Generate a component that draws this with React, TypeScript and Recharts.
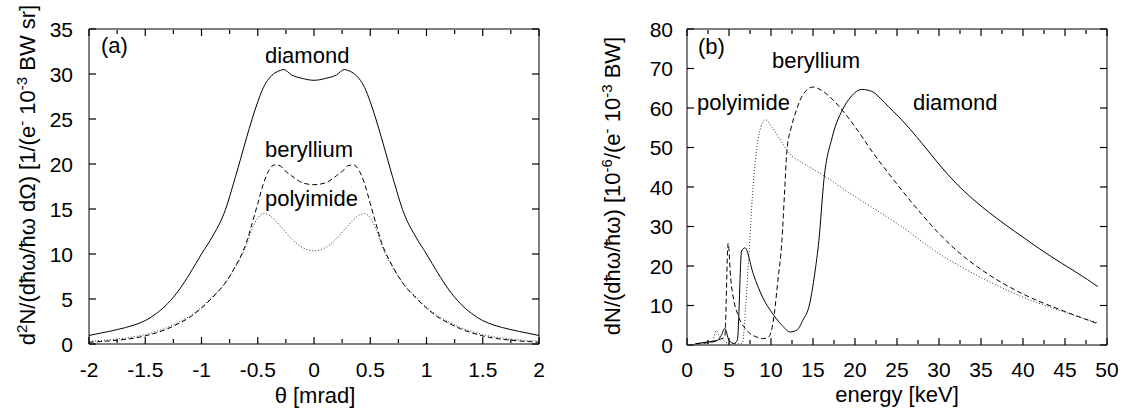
import React from 'react';
import { LineChart, Line, XAxis, YAxis } from 'recharts';

const FONT = '"Liberation Sans", Arial, Helvetica, sans-serif';

// (a) angular distribution, theta in mrad
const theta = [-2, -1.9, -1.75, -1.6, -1.5, -1.4, -1.3, -1.2, -1.1, -1, -0.9, -0.8, -0.7, -0.6, -0.55, -0.5, -0.45, -0.4, -0.35,
  -0.3, -0.27, -0.2, -0.1, 0, 0.1, 0.2, 0.27, 0.3, 0.35, 0.4, 0.45, 0.5, 0.55, 0.6, 0.7, 0.8, 0.9, 1, 1.1, 1.2, 1.3, 1.4, 1.5,
  1.6, 1.75, 1.9, 2];
const diamondA = [0.95, 1.2, 1.6, 2.1, 2.6, 3.4, 4.5, 6.0, 7.9, 10.0, 12.0, 14.5, 18.5, 22.9, 25.0, 26.9, 28.5, 29.5, 30.1,
  30.4, 30.5, 29.9, 29.5, 29.3, 29.5, 29.9, 30.5, 30.4, 30.1, 29.5, 28.5, 26.9, 25.0, 22.9, 18.5, 14.5, 12.0, 10.0, 7.9, 6.0,
  4.5, 3.4, 2.6, 2.1, 1.6, 1.2, 0.95];
const berylliumA = [0.2, 0.27, 0.42, 0.65, 0.9, 1.25, 1.7, 2.3, 3.0, 4.0, 5.2, 6.6, 8.6, 11.3, 13.4, 15.6, 17.8, 19.3, 19.9,
  19.8, 19.4, 18.7, 17.9, 17.7, 17.9, 18.7, 19.4, 19.8, 19.9, 19.3, 17.8, 15.6, 13.4, 11.3, 8.6, 6.6, 5.2, 4.0, 3.0, 2.3,
  1.7, 1.25, 0.9, 0.65, 0.42, 0.27, 0.2];
const polyimideA = [0.3, 0.38, 0.55, 0.8, 1.05, 1.4, 1.85, 2.45, 3.15, 4.1, 5.3, 6.6, 8.5, 11.0, 12.8, 14.0, 14.5, 14.3, 13.8,
  13.1, 12.7, 11.7, 10.7, 10.35, 10.7, 11.7, 12.7, 13.1, 13.8, 14.3, 14.5, 14.0, 12.8, 11.0, 8.5, 6.6, 5.3, 4.1, 3.15, 2.45,
  1.85, 1.4, 1.05, 0.8, 0.55, 0.38, 0.3];

const thetaMajor = [-2, -1.5, -1, -0.5, 0, 0.5, 1, 1.5, 2];
const thetaMinor = [-1.75, -1.25, -0.75, -0.25, 0.25, 0.75, 1.25, 1.75];
const angTicks = [0, 5, 10, 15, 20, 25, 30, 35];

// (b) spectra, energy in keV
const diamondE = [1, 2.5, 3.6, 4.1, 4.5, 5.0, 5.6, 6.0, 6.5, 6.9, 7.9, 9.0, 10.2, 11.3, 12.3, 13.1, 13.8, 14.6, 15.2, 15.7, 16.3,
  17.3, 18.5, 19.5, 20.8, 22, 23, 24, 25.2, 28, 30.1, 32, 34, 36, 38, 40, 42, 44.6, 46.5, 48.9];
const diamondB = [0.3, 0.8, 1.2, 2.5, 4.2, 1.2, 0.4, 1.3, 23.8, 24.6, 17.9, 12.1, 7.9, 5.0, 3.3, 3.8, 6.3, 10.4, 18, 26.4, 41.8,
  52.7, 59.5, 62.8, 64.7, 64.2, 62.5, 60.3, 57.8, 51.0, 45.5, 41.0, 37.0, 33.5, 30.3, 27.3, 24.3, 20.7, 18.2, 14.8];

const berylliumE = [1, 2.5, 3.5, 4.0, 4.5, 4.9, 5.2, 5.6, 6.0, 6.3, 7.0, 7.5, 8.2, 9.0, 9.6, 10.0, 10.4, 10.8, 11.3, 11.6, 11.9,
  12.4, 12.9, 13.9, 15.0, 16.0, 17.4, 19.4, 22.2, 25.2, 27.5, 30.1, 32.5, 35.1, 40, 44.6, 48.9];
const berylliumB = [0.3, 0.6, 1.0, 1.5, 2.0, 25.8, 17, 11, 8, 6.3, 4, 2.9, 2.1, 1.6, 1.8, 3.2, 8, 16, 26.4, 38, 49.3,
  55, 58.7, 63.7, 65.3, 64.5, 62, 57, 48.5, 40.2, 34.2, 28.0, 23.2, 19.0, 12.9, 8.8, 5.4];

const polyimideE = [1, 2.5, 3.0, 3.5, 3.8, 4.0, 4.4, 5.0, 6.0, 6.6, 7.0, 7.4, 7.8, 8.2, 8.6, 9.0, 9.4, 10, 11, 12.2, 14, 16.5,
  19.4, 22.5, 25.2, 30.1, 35.1, 40, 44.6, 48.9];
const polyimideB = [0.2, 0.5, 0.8, 3.7, 2.5, 2.0, 1.0, 0.5, 0.3, 0.5, 10, 24, 38, 48, 53.6, 56.3, 57, 55.5, 52.3, 48.5, 45.8, 42.6,
  38.4, 34.2, 30.5, 23.0, 17.0, 12.1, 8.6, 5.6];

const energyMajor = [0, 5, 10, 15, 20, 25, 30, 35, 40, 45, 50];
const energyMinor = [2.5, 7.5, 12.5, 17.5, 22.5, 27.5, 32.5, 37.5, 42.5, 47.5];
const specTicks = [0, 10, 20, 30, 40, 50, 60, 70, 80];

const angData = theta.map((t, i) => ({
  theta: t,
  diamond: diamondA[i],
  beryllium: berylliumA[i],
  polyimide: polyimideA[i],
}));
const toPts = (es: number[], vs: number[]) => es.map((e, i) => ({ e, v: vs[i] }));
const diamondSpec = toPts(diamondE, diamondB);
const berylliumSpec = toPts(berylliumE, berylliumB);
const polyimideSpec = toPts(polyimideE, polyimideB);

const MAJOR = 7;
const MINOR = 4;
const tickTxt = { fontFamily: FONT, fontSize: 21, fill: '#000' };
const txt = { fontFamily: FONT, fontSize: 22, fill: '#000' };
const black = { stroke: '#000', strokeWidth: 1 };
const tickMark = { stroke: '#000', strokeWidth: 1.2 };

// labels only, the tick marks come from mirrored axes
const bottomLabel = (gap: number) => (props: any) => (
  <text x={props.x} y={props.y + gap} dy="0.72em" textAnchor="middle" {...tickTxt}>{String(props.payload.value)}</text>
);
const leftLabel = (gap: number) => (props: any) => (
  <text x={props.x - gap} y={props.y} dy="0.36em" textAnchor="end" {...tickTxt}>{String(props.payload.value)}</text>
);
const noLabel = () => <g />;

const solid = { stroke: '#000', strokeWidth: 1 };
const dashed = { stroke: '#000', strokeWidth: 1, strokeDasharray: '5 3' };
const dotted = { stroke: '#333', strokeWidth: 1, strokeDasharray: '1 2' };

// frame with inward ticks (gnuplot style)
const frame = (key: string, lo: number, hi: number, major: number[], minor: number[], yLo: number, yHi: number, yTicks: number[], labelGap: number, yGap: number, yWidth: number) => [
  <XAxis key="b" xAxisId="b" dataKey={key} type="number" domain={[lo, hi]} ticks={major} interval={0} allowDataOverflow
    height={40} tickSize={0} tickMargin={0} tickLine={false} axisLine={black} tick={bottomLabel(labelGap)} />,
  <XAxis key="bM" xAxisId="bM" dataKey={key} type="number" orientation="bottom" mirror domain={[lo, hi]} ticks={major}
    interval={0} allowDataOverflow height={1} tickSize={MAJOR} tickLine={tickMark} axisLine={false} tick={noLabel} />,
  <XAxis key="bm" xAxisId="bm" dataKey={key} type="number" orientation="bottom" mirror domain={[lo, hi]} ticks={minor}
    interval={0} allowDataOverflow height={1} tickSize={MINOR} tickLine={tickMark} axisLine={false} tick={noLabel} />,
  <XAxis key="tM" xAxisId="tM" dataKey={key} type="number" orientation="top" mirror domain={[lo, hi]} ticks={major}
    interval={0} allowDataOverflow height={1} tickSize={MAJOR} tickLine={tickMark} axisLine={black} tick={noLabel} />,
  <XAxis key="tm" xAxisId="tm" dataKey={key} type="number" orientation="top" mirror domain={[lo, hi]} ticks={minor}
    interval={0} allowDataOverflow height={1} tickSize={MINOR} tickLine={tickMark} axisLine={false} tick={noLabel} />,
  <YAxis key="l" yAxisId="l" type="number" domain={[yLo, yHi]} ticks={yTicks} interval={0} allowDataOverflow width={yWidth}
    tickSize={0} tickMargin={0} tickLine={false} axisLine={black} tick={leftLabel(yGap)} />,
  <YAxis key="lM" yAxisId="lM" type="number" orientation="left" mirror domain={[yLo, yHi]} ticks={yTicks} interval={0}
    allowDataOverflow width={1} tickSize={MAJOR} tickLine={tickMark} axisLine={false} tick={noLabel} />,
  <YAxis key="rM" yAxisId="rM" type="number" orientation="right" mirror domain={[yLo, yHi]} ticks={yTicks} interval={0}
    allowDataOverflow width={1} tickSize={MAJOR} tickLine={tickMark} axisLine={black} tick={noLabel} />,
];

const Annotations = () => (
  <svg width={1144} height={417} style={{ position: 'absolute', left: 0, top: 0, pointerEvents: 'none' }}>
    <g {...txt}>
      <text x={101} y={53}>(a)</text>
      <text x={265} y={63}>diamond</text>
      <text x={265} y={157}>beryllium</text>
      <text x={265} y={206}>polyimide</text>
      <text x={315} y={403} textAnchor="middle">θ [mrad]</text>
      <text transform="translate(35,175) rotate(-90)" textAnchor="middle">
        d<tspan dy={-8} fontSize={15}>2</tspan>
        <tspan dy={8}>N/(dħω/ħω dΩ) [1/(e</tspan>
        <tspan dy={-8} fontSize={15}>-</tspan>
        <tspan dy={8}> 10</tspan>
        <tspan dy={-8} fontSize={15}>-3</tspan>
        <tspan dy={8}> BW sr]</tspan>
      </text>

      <text x={698} y={54}>(b)</text>
      <text x={772} y={68}>beryllium</text>
      <text x={697} y={110}>polyimide</text>
      <text x={913} y={110}>diamond</text>
      <text x={897} y={402} textAnchor="middle">energy [keV]</text>
      <text transform="translate(620,186) rotate(-90)" textAnchor="middle">
        dN/(dħω/ħω) [10<tspan dy={-8} fontSize={15}>-6</tspan>
        <tspan dy={8}>/(e</tspan>
        <tspan dy={-8} fontSize={15}>-</tspan>
        <tspan dy={8}> 10</tspan>
        <tspan dy={-8} fontSize={15}>-3</tspan>
        <tspan dy={8}> BW]</tspan>
      </text>
    </g>
  </svg>
);

export default function App() {
  return (
    <div style={{ position: 'absolute', left: 0, top: 0, width: 1144, height: 417, background: '#fff' }}>
      <div style={{ position: 'absolute', left: 0, top: 0 }}>
        <LineChart width={560} height={417} data={angData} margin={{ top: 29, right: 21, bottom: 33, left: 0 }}>
          {frame('theta', -2, 2, thetaMajor, thetaMinor, 0, 35, angTicks, 18, 16, 89)}
          <Line xAxisId="b" yAxisId="l" type="monotone" dataKey="diamond" {...solid} dot={false} isAnimationActive={false} />
          <Line xAxisId="b" yAxisId="l" type="monotone" dataKey="beryllium" {...dashed} dot={false} isAnimationActive={false} />
          <Line xAxisId="b" yAxisId="l" type="monotone" dataKey="polyimide" {...dotted} dot={false} isAnimationActive={false} />
        </LineChart>
      </div>
      <div style={{ position: 'absolute', left: 560, top: 0 }}>
        <LineChart width={584} height={417} margin={{ top: 29, right: 37, bottom: 32, left: 0 }}>
          {frame('e', 0, 50, energyMajor, energyMinor, 0, 80, specTicks, 17, 14, 127)}
          <Line xAxisId="b" yAxisId="l" data={diamondSpec} type="monotone" dataKey="v" {...solid} dot={false} isAnimationActive={false} />
          <Line xAxisId="b" yAxisId="l" data={berylliumSpec} type="monotone" dataKey="v" {...dashed} dot={false} isAnimationActive={false} />
          <Line xAxisId="b" yAxisId="l" data={polyimideSpec} type="monotone" dataKey="v" {...dotted} dot={false} isAnimationActive={false} />
        </LineChart>
      </div>
      <Annotations />
    </div>
  );
}
